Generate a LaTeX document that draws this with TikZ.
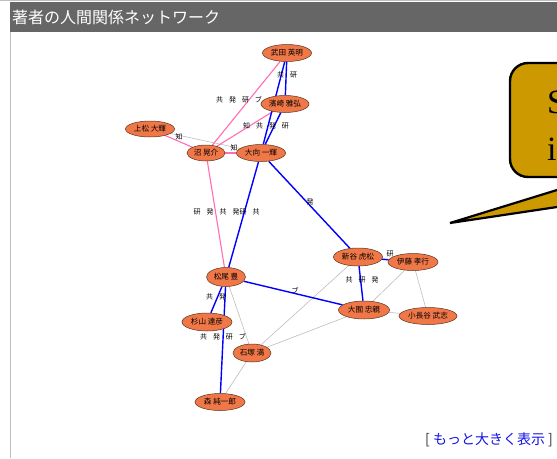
\documentclass[tikz,border=0pt]{standalone}
\usepackage{fontspec}
\newfontfamily\jp{Noto Sans CJK JP}
\newfontfamily\tms{Liberation Serif}
\usetikzlibrary{shapes.geometric}
\definecolor{nodefill}{RGB}{240,120,72}
\definecolor{nodeline}{RGB}{90,50,30}
\definecolor{pinkedge}{RGB}{255,110,180}
\definecolor{blueedge}{RGB}{0,0,255}
\definecolor{grayedge}{RGB}{180,180,180}
\definecolor{headbar}{RGB}{102,102,102}
\definecolor{gold}{RGB}{204,153,0}
\definecolor{linkblue}{RGB}{20,20,230}
\definecolor{framegray}{RGB}{190,190,190}
\pgfdeclarelayer{bottom}
\pgfdeclarelayer{background}
\pgfsetlayers{bottom,background,main}
\newcommand\lgap{\hspace{6pt}}
\begin{document}
\begin{tikzpicture}[x=1pt,y=-1pt,
 person/.style={ellipse,draw=nodeline,line width=0.5pt,fill=nodefill,minimum width=49pt,minimum height=17pt,inner sep=0pt,font=\jp\fontsize{7.6}{7.6}\selectfont},
 lbl/.style={inner sep=0pt,font=\jp\fontsize{7}{7}\selectfont},
 bl/.style={draw=blueedge,line width=1.4pt},
 pk/.style={draw=pinkedge,line width=1.1pt},
 gr/.style={draw=grayedge,line width=0.5pt}]
\useasboundingbox (0,0) rectangle (557,458);
\clip (0,0) rectangle (557,458);
\begin{pgfonlayer}{bottom}
\fill[white] (0,0) rectangle (557,458);
\draw[framegray, line width=0.6pt] (0,0.5) -- (557,0.5);
\fill[headbar] (10,2) rectangle (557,32);
\draw[framegray, line width=0.8pt] (10,32) -- (10,458);
\end{pgfonlayer}
\node[anchor=west, text=white, font=\jp\fontsize{16}{16}\selectfont, inner sep=0pt] (title) at (12,17) {著者の人間関係ネットワーク};

% people
\node[person] (takeda) at (287,53) {武田 英明};
\node[person,minimum width=48pt] (hamasaki) at (285,104) {濱崎 雅弘};
\node[person,minimum height=16pt] (uematsu) at (150,129) {上松 大輝};
\node[person,minimum width=38pt,minimum height=16pt] (numa) at (206,153) {沼 晃介};
\node[person] (ohmukai) at (261,153) {大向 一輝};
\node[person,minimum height=18pt] (shintani) at (358,257) {新谷 虎松};
\node[person,minimum width=50pt] (ito) at (413,262) {伊藤 孝行};
\node[person,minimum width=39pt,minimum height=19pt] (matsuo) at (226,277) {松尾 豊};
\node[person,minimum width=51pt,minimum height=18pt] (ozono) at (364,310) {大囿 忠親};
\node[person,minimum width=58pt] (konagaya) at (428,316) {小長谷 武志};
\node[person,minimum width=50pt,minimum height=18pt] (sugiyama) at (207,322) {杉山 達彦};
\node[person,minimum width=38pt,minimum height=18pt] (ishizuka) at (252,353) {石塚 満};
\node[person,minimum width=50pt] (mori) at (220,402) {森 純一郎};

\begin{pgfonlayer}{background}
% gray links
\draw[gr] (uematsu) -- (ohmukai);
\draw[gr] (matsuo) -- (ishizuka);
\draw[gr] (shintani) -- (ishizuka);
\draw[gr] (ito) -- (ozono);
\draw[gr] (ozono) -- (ishizuka);
\draw[gr] (ito) -- (konagaya);
\draw[gr] (ozono) -- (konagaya);
\draw[gr] (ishizuka) -- (mori);
% pink links
\draw[pk] (takeda) -- (numa);
\draw[pk] (hamasaki) -- (numa);
\draw[pk] (uematsu) -- (numa);
\draw[pk] (numa) -- (ohmukai);
\draw[pk] (numa) -- (matsuo);
% blue links
\draw[bl] (takeda) -- (ohmukai);
\draw[bl] (takeda) -- (hamasaki);
\draw[bl] (hamasaki) -- (ohmukai);
\draw[bl] (ohmukai) -- (matsuo);
\draw[bl] (ohmukai) -- (shintani);
\draw[bl] (shintani) -- (ozono);
\draw[bl] (shintani) -- (ito);
\draw[bl] (matsuo) -- (ozono);
\draw[bl] (matsuo) -- (sugiyama);
\draw[bl] (matsuo) -- (mori);
% labels
\node[lbl] (l1) at (287,75) {共\lgap 研};
\node[lbl] (l2) at (239,100) {共\lgap 発\lgap 研\lgap ブ};
\node[lbl] (l3) at (266,126) {知\lgap 共\lgap 発\lgap 研};
\node[lbl] (l4) at (179,137) {知};
\node[lbl] (l5) at (234,148) {知};
\node[lbl] (l6) at (210,212) {研\lgap 発\lgap 共};
\node[lbl] (l7) at (246,212) {発研\lgap 共};
\node[lbl] (l8) at (310,202) {発};
\node[lbl] (l9) at (362,280) {共\lgap 研\lgap 発};
\node[lbl] (l10) at (295,291) {ブ};
\node[lbl] (l11) at (216,297) {共\lgap 発};
\node[lbl] (l12) at (223,337) {共\lgap 発\lgap 研\lgap ブ};
\node[lbl] (l13) at (390,254) {研};
\end{pgfonlayer}

% callout
\filldraw[fill=gold, draw=black, line width=2.4pt, rounded corners=18pt] (510,63) rectangle (650,177);
\filldraw[fill=gold, draw=black, line width=2.2pt, line join=miter] (450,223) -- (620,170.6) -- (620,197.6) -- cycle;
\node[anchor=base west, font=\tms\fontsize{34}{34}\selectfont, inner sep=0pt] (cs) at (547,113) {S};
\node[anchor=base west, font=\tms\fontsize{34}{34}\selectfont, inner sep=0pt] (ci) at (547,160) {i};

% link
\node[font=\jp\fontsize{14}{14}\selectfont, inner sep=0pt, text=black!80] (more) at (489,440) {[ \textcolor{linkblue}{もっと大きく表示} ]};
\end{tikzpicture}
\end{document}
